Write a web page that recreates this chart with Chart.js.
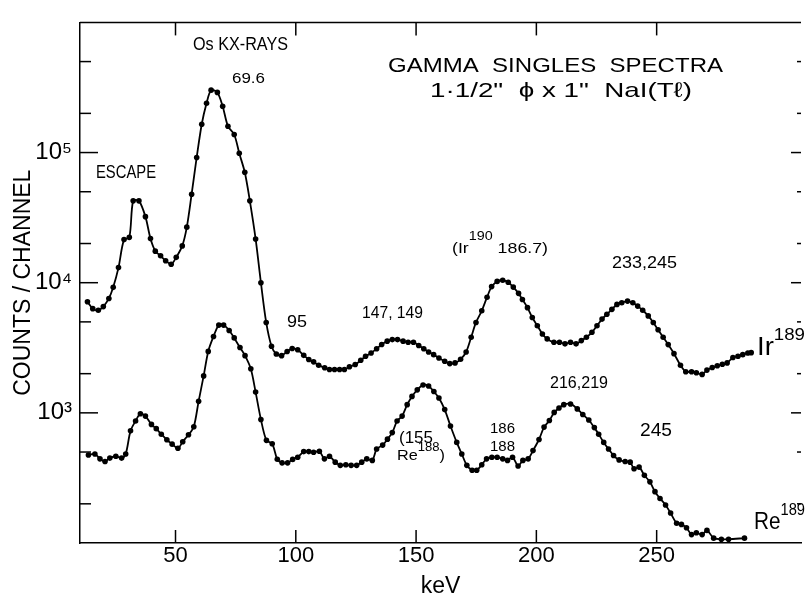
<!DOCTYPE html>
<html><head><meta charset="utf-8">
<script src="https://cdn.jsdelivr.net/npm/chart.js@4.4.0/dist/chart.umd.min.js"></script>
<style>html,body{margin:0;padding:0;background:#fff;overflow:hidden}</style>
</head><body>
<canvas id="c" width="805" height="594"></canvas>
<script>
// ---------- DATA ----------
const irKeV = [13.4,15.6,17.9,20.0,22.3,24.1,26.3,28.6,30.8,32.4,34.8,37.5,39.6,41.6,43.8,45.9,48.2,50.3,52.8,54.7,
  56.7,58.8,60.9,62.9,64.8,67.4,69.6,71.8,74.4,76.5,78.8,80.9,83.3,85.5,87.7,89.9,91.9,94.1,96.4,98.5,
  100.8,103.3,105.4,107.4,109.5,112.0,114.0,116.1,118.2,120.2,122.3,124.7,127.0,129.0,131.3,133.6,135.7,138.0,140.1,142.3,
  144.6,146.7,148.9,151.1,153.2,155.2,157.3,159.5,161.9,164.0,166.2,168.5,170.8,172.9,174.9,177.3,179.5,181.4,183.7,186.0,
  188.3,190.4,192.6,194.2,196.3,198.3,200.4,202.5,204.5,207.3,209.6,211.9,214.2,216.5,218.7,220.8,223.1,225.2,227.3,229.3,
  231.4,233.5,235.5,237.9,240.1,242.1,244.2,246.5,248.6,250.6,252.7,254.8,257.2,259.9,262.1,264.5,266.5,268.9,270.9,273.1,
  275.2,277.3,279.3,281.7,283.8,285.8,287.9,289.3];
const irCounts = [7140,6320,6140,6550,7570,9210,13060,21430,22300,42550,42550,32180,21820,17470,16100,14760,13860,15660,19170,26710,
  47820,91630,164900,239200,301700,289800,227000,159300,137600,98800,70500,42550,21670,10000,4950,3250,2830,2750,2960,3125,
  3050,2765,2570,2465,2320,2220,2155,2155,2155,2155,2260,2350,2535,2720,2880,3110,3350,3555,3655,3655,
  3555,3490,3490,3290,3110,2935,2800,2640,2490,2390,2420,2580,2935,3810,4950,6080,7740,9330,10230,10440,
  10090,9250,8280,7430,6430,5400,4670,4040,3700,3490,3490,3390,3490,3390,3590,3810,4160,4670,5250,5720,
  6240,6810,7020,7220,7020,6610,6140,5560,4950,4345,3810,3345,2850,2320,2070,2070,2035,1975,2130,2230,
  2300,2360,2420,2660,2720,2800,2880,2900];

const reKeV = [13.8,16.5,18.6,20.7,22.7,25.2,27.6,29.3,31.3,33.4,35.4,37.5,40.0,42.0,44.1,46.4,48.6,51.0,53.0,55.4,
  57.6,59.6,61.7,63.6,65.8,68.0,70.0,72.3,74.4,76.8,78.9,81.3,83.3,85.5,87.8,90.2,92.3,94.3,96.6,98.7,
  100.8,103.3,105.4,107.4,109.8,111.9,114.0,116.4,118.5,120.8,123.0,125.3,127.4,129.5,131.8,133.6,136.1,138.1,140.1,142.1,
  144.2,146.3,148.3,150.5,152.9,155.2,157.4,159.5,161.9,164.3,166.9,169.0,171.1,173.3,175.2,177.3,179.3,181.5,183.7,186.0,
  188.0,190.1,192.4,194.4,196.6,198.6,201.1,203.2,205.4,207.4,209.4,211.4,214.2,217.0,219.3,221.8,224.1,225.9,228.0,230.0,
  232.1,234.4,236.9,239.0,240.6,242.7,244.9,247.2,249.3,251.4,253.7,255.8,258.3,260.3,262.4,264.5,266.5,268.9,270.9,273.7,
  276.9,279.9,286.5];
const reCounts = [475,483,443,423,449,464,449,483,727,865,983,944,815,756,685,621,575,534,600,678,
  783,1226,1923,2965,3865,4725,4725,4295,3765,3175,2750,2180,1443,890,615,579,440,413,413,439,
  456,504,504,498,507,443,464,418,395,399,395,395,418,443,431,527,565,628,705,865,
  944,1156,1338,1502,1638,1610,1460,1299,1059,793,593,483,395,362,362,399,443,456,456,443,
  431,456,391,431,443,513,624,777,873,1008,1091,1156,1170,1072,971,881,770,685,593,527,
  470,435,423,418,372,383,331,295,248,220,196,170,142,139,131,116,120,116,125,109,
  107,107,109];

const xTickValues = [50,100,150,200,250];
const xTickLabels = ['50','100','150','200','250'];
const yMajorValues = [1e3,1e4,1e5];
const yTickLabels = ['10\u00B3','10\u2074','10\u2075'];
const yMinorValues = [200,500,2e3,5e3,2e4,5e4,2e5,5e5];

// ---------- STYLE ----------
const FONT = '"Liberation Sans", Arial, sans-serif';

function toPts(xs, ys){ return xs.map((x,i)=>({x:x, y:ys[i]})); }

// text notes: segments [text, isSuperscript]
const notes = [
  {segs:[['Os KX-RAYS',0]], left:193, base:50, size:18, width:95},
  {segs:[['69.6',0]], left:232, base:83, size:14, width:33},
  {segs:[['ESCAPE',0]], left:96, base:178, size:18, width:60},
  {segs:[['GAMMA  SINGLES  SPECTRA',0]], left:388, base:72, size:21, width:335},
  {segs:[['1\u00B71/2"  \u03D5 x 1"  NaI(T\u2113)',0]], left:430, base:97, size:21, width:262},
  {segs:[['95',0]], left:287, base:327, size:16.5, width:20},
  {segs:[['147, 149',0]], left:362, base:318, size:16.5, width:61},
  {segs:[['(Ir',0],['190',1],[' 186.7)',0]], left:452, base:253, size:15.5, sup:12.5, raise:12.6, width:96},
  {segs:[['233,245',0]], left:612, base:267.5, size:17, width:65},
  {segs:[['Ir',0],['189',1]], left:757, base:355, size:25, sup:17, raise:15, width:48},
  {segs:[['Re',0],['189',1]], left:754, base:529, size:24, sup:17, raise:14, width:51},
  {segs:[['216,219',0]], left:550, base:388, size:17, width:58},
  {segs:[['245',0]], left:640, base:436, size:18, width:32},
  {segs:[['(155',0]], left:399, base:443, size:17, width:34},
  {segs:[['Re',0],['188',1],[')',0]], left:397, base:460, size:15.5, sup:12.5, raise:9, width:48},
  {segs:[['186',0]], left:490, base:433, size:15.5, width:25},
  {segs:[['188',0]], left:490, base:451, size:15.5, width:25}
];

function drawNote(ctx, n){
  const supSize = n.sup || n.size*0.7;
  const widths = n.segs.map(([t,s]) => { ctx.font = (s?supSize:n.size)+'px '+FONT; return ctx.measureText(t).width; });
  const nat = widths.reduce((a,b)=>a+b,0);
  const sx = n.width ? n.width/nat : 1;
  ctx.save();
  ctx.translate(n.left, n.base);
  ctx.scale(sx,1);
  ctx.fillStyle = '#000';
  ctx.textBaseline = 'alphabetic';
  ctx.textAlign = 'left';
  let cx = 0;
  n.segs.forEach(([t,s],i) => {
    ctx.font = (s?supSize:n.size)+'px '+FONT;
    ctx.fillText(t, cx, s ? -(n.raise||n.size*0.5) : 0);
    cx += widths[i];
  });
  ctx.restore();
}

const framePlugin = {
  id:'frame',
  afterDraw(chart){
    const {ctx, chartArea:a, scales:{x, y}} = chart;
    ctx.save();
    ctx.strokeStyle = '#000';
    ctx.lineWidth = 1.5;
    const ln = (x1,y1,x2,y2)=>{ ctx.beginPath(); ctx.moveTo(x1,y1); ctx.lineTo(x2,y2); ctx.stroke(); };
    ln(a.left, a.top, a.right, a.top);
    xTickValues.forEach(v => {
      const px = x.getPixelForValue(v);
      ln(px, a.bottom, px, a.bottom-13);
      ln(px, a.top, px, a.top+13);
    });
    yMajorValues.forEach(v => {
      const py = y.getPixelForValue(v);
      ln(a.left, py, a.left+18, py);
      ln(a.right, py, a.right-10, py);
    });
    yMinorValues.forEach(v => {
      const py = y.getPixelForValue(v);
      ln(a.left, py, a.left+11, py);
      ln(a.right, py, a.right-4, py);
    });
    ctx.restore();
    notes.forEach(n => drawNote(ctx, n));
  }
};

new Chart(document.getElementById('c'), {
  type:'line',
  data:{
    datasets:[
      {label:'Ir189', data:toPts(irKeV, irCounts), borderColor:'#000', backgroundColor:'#000',
       borderWidth:1.8, pointRadius:2.8, pointBorderWidth:0, pointBackgroundColor:'#000', tension:0.3, fill:false},
      {label:'Re189', data:toPts(reKeV, reCounts), borderColor:'#000', backgroundColor:'#000',
       borderWidth:1.8, pointRadius:2.8, pointBorderWidth:0, pointBackgroundColor:'#000', tension:0.3, fill:false}
    ]
  },
  options:{
    responsive:false,
    animation:false,
    devicePixelRatio:1,
    layout:{padding:{top:14,right:0,left:0,bottom:0}},
    plugins:{legend:{display:false}, tooltip:{enabled:false}},
    scales:{
      x:{
        type:'linear', min:10.3, max:310,
        afterBuildTicks(s){ s.ticks = xTickValues.map(v=>({value:v})); },
        afterFit(s){ s.height = 51; },
        grid:{display:false, drawTicks:false},
        border:{display:true, color:'#000', width:1.5},
        ticks:{color:'#000', padding:0, maxRotation:0, autoSkip:false,
          font:{family:FONT, size:22},
          callback(v){ const i = xTickValues.indexOf(v); return i>=0 ? xTickLabels[i] : ''; }},
        title:{display:true, text:'keV', color:'#000', font:{family:FONT, size:23, lineHeight:1},
          padding:{top:0, bottom:-4}}
      },
      y:{
        type:'logarithmic', min:100, max:1e6,
        afterBuildTicks(s){ s.ticks = yMajorValues.map(v=>({value:v})); },
        afterFit(s){ s.width = 80; },
        grid:{display:false, drawTicks:false},
        border:{display:true, color:'#000', width:1.5},
        ticks:{color:'#000', padding:8, autoSkip:false,
          font:{family:FONT, size:24},
          callback(v){ const i = yMajorValues.indexOf(v); return i>=0 ? yTickLabels[i] : ''; }},
        title:{display:true, text:'COUNTS / CHANNEL', color:'#000', font:{family:FONT, size:23, lineHeight:1.2},
          padding:{top:10, bottom:0}}
      }
    }
  },
  plugins:[framePlugin]
});
</script></body></html>
